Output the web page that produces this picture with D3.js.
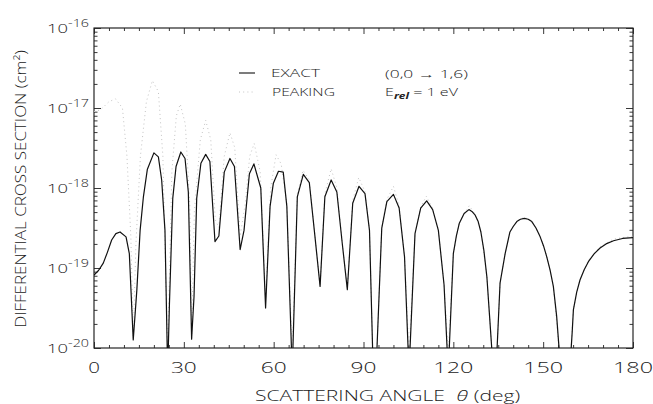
<!DOCTYPE html>
<html><head><meta charset="utf-8">
<script src="https://cdn.jsdelivr.net/npm/d3@7"></script>
<style>
html,body{margin:0;padding:0;background:#fff;}
text{font-family:"Open Sans","Liberation Sans",Arial,sans-serif;font-weight:300;fill:#222;}
</style></head>
<body><svg id="c" width="653" height="404"></svg>
<script>
// ---- data ----
const thetaExact = [0,1.5,3.1,4.5,5.9,7.3,8.7,10.7,11.8,13.1,14.3,15.4,16.5,17.8,20.0,21.5,22.6,23.7,24.6,25.2,26.3,27.4,29.0,30.4,31.5,32.6,33.4,34.3,35.7,37.3,38.7,40.4,41.7,43.5,45.4,46.9,48.8,50.1,51.9,53.4,55.7,57.3,58.8,59.9,61.6,63.2,64.4,66.2,67.9,69.9,71.9,73.8,75.5,77.1,79.2,81.1,82.9,84.6,86.4,88.5,90.5,92.0,93.1,94.4,96.1,97.8,100.0,101.9,103.7,105.2,107.2,109.1,111.1,113.1,115.0,116.9,118.3,120.0,121.0,122.0,123.6,125.2,126.2,127.3,128.3,129.2,130.2,131.2,132.1,133.0,134.5,135.6,137.3,138.9,140.0,141.2,142.4,143.7,145.0,146.2,147.6,149.0,150.1,151.2,152.3,153.4,154.5,155.5,159.2,159.7,160.1,161.2,162.3,163.7,165.1,167.0,169.0,171.0,173.5,176.5,180.0];
const exactCS = [8.13e-20,9.3e-20,1.15e-19,1.58e-19,2.24e-19,2.69e-19,2.82e-19,2.45e-19,1.51e-19,1.26e-20,5.25e-20,2.95e-19,7.76e-19,1.70e-18,2.75e-18,2.45e-18,1.26e-18,2.95e-19,5e-21,3.63e-20,7.41e-19,1.86e-18,2.82e-18,2.34e-18,8.91e-19,1.29e-20,4.37e-20,7.41e-19,2.04e-18,2.63e-18,2.14e-18,2.14e-19,2.51e-19,1.58e-18,2.34e-18,1.86e-18,1.70e-19,2.95e-19,1.51e-18,2.0e-18,1.0e-18,3.16e-20,5.89e-19,1.15e-18,1.62e-18,1.58e-18,5.89e-19,5e-21,7.76e-19,1.48e-18,1.17e-18,2.45e-19,5.89e-20,7.76e-19,1.26e-18,8.91e-19,2.04e-19,5.37e-20,6.46e-19,1.05e-18,8.51e-19,2.95e-19,8e-21,8e-21,3.16e-19,6.76e-19,8.32e-19,5.62e-19,1.38e-19,5e-21,2.69e-19,5.62e-19,6.92e-19,5.37e-19,2.95e-19,6.17e-20,5e-21,1.51e-19,2.5e-19,3.63e-19,4.8e-19,5.37e-19,5.1e-19,4.57e-19,3.8e-19,2.82e-19,1.66e-19,7.76e-20,2.5e-20,8e-21,8e-21,6.46e-20,1.51e-19,2.82e-19,3.3e-19,3.80e-19,4.07e-19,4.17e-19,4.07e-19,3.80e-19,3.16e-19,2.45e-19,1.9e-19,1.38e-19,9.5e-20,5.89e-20,2.5e-20,8e-21,8e-21,1.6e-20,3.02e-20,5e-20,7.08e-20,9.5e-20,1.20e-19,1.5e-19,1.78e-19,2.0e-19,2.19e-19,2.34e-19,2.40e-19];

const thetaPeak = [0,2.2,5.0,7.2,9.5,11.0,12.3,13.1,14.0,15.5,17.5,19.5,21.5,23.0,24.6,26.0,27.5,28.8,30.5,32.0,32.6,33.5,35.5,37.3,39.0,40.5,41.7,43.5,45.4,47.0,48.8,50.5,52.0,53.5,55.5,57.3,59.0,60.8,62.5,64.4,66.2,67.9,69.8,71.9,73.8,75.5,77.1,79.2,81.1,82.9,84.6,86.4,88.4,90.5,92.0,93.1,94.4,96.1,97.8,100.0,101.9,103.7,105.2,107.2,109.1,111.0,113.1,115.0,116.9,118.3,120.0,122.0,125.3,127.3,129.2,131.2,133.0,134.5,135.6,137.3,138.9,141.2,143.7,146.2,149.0,151.2,153.4,155.5,159.2,160.1,162.3,165.1,169.0,173.5,180.0];
const peakCS = [9e-18,9.5e-18,1.2e-17,1.3e-17,1.0e-17,2.5e-18,2.5e-19,1.3e-20,2.0e-19,2.5e-18,1.2e-17,2.2e-17,1.6e-17,2.5e-18,8e-21,1.6e-18,8e-18,1.12e-17,6.3e-18,6e-19,1.3e-20,5e-19,4e-18,7e-18,4e-18,4e-19,3.2e-19,2.5e-18,4.9e-18,3.2e-18,2.5e-19,6.3e-19,2.5e-18,3.6e-18,1.6e-18,4e-20,1.0e-18,2.6e-18,2.0e-18,6.3e-19,8e-21,8.5e-19,1.66e-18,1.26e-18,2.5e-19,6e-20,8.5e-19,1.74e-18,1.0e-18,2.1e-19,5.5e-20,7e-19,1.35e-18,9e-19,3e-19,8e-21,8e-21,3.2e-19,7.2e-19,1.05e-18,6e-19,1.4e-19,8e-21,2.7e-19,5.8e-19,7.9e-19,5.5e-19,3e-19,6.2e-20,8e-21,1.5e-19,3.7e-19,6.0e-19,4.7e-19,2.85e-19,7.8e-20,8e-21,8e-21,6.5e-20,1.52e-19,2.85e-19,3.85e-19,4.3e-19,3.9e-19,2.5e-19,1.4e-19,6e-20,8e-21,8e-21,3.1e-20,7.2e-20,1.25e-19,1.85e-19,2.3e-19,2.5e-19];

const xTicks = [0,30,60,90,120,150,180];
const yTickExps = ["-20","-19","-18","-17","-16"];
const seriesNames = ["EXACT","PEAKING"];
const transitionLabel = "(0,0 \u2192 1,6)";
const xTitle = "SCATTERING ANGLE";
const yTitle = "DIFFERENTIAL CROSS SECTION (cm\u00B2)";

// ---- layout ----
const L=94, R=633, T=28, B=348;
const svg = d3.select("#c");
const x = d3.scaleLinear().domain([0,180]).range([L,R]);
const y = d3.scaleLog().domain([1e-20,1e-16]).range([B,T]);

svg.append("defs").append("clipPath").attr("id","pc")
  .append("rect").attr("x",L).attr("y",T).attr("width",R-L).attr("height",B-T);

svg.append("rect").attr("x",L).attr("y",T).attr("width",R-L).attr("height",B-T)
  .attr("fill","none").attr("stroke","#111").attr("stroke-width",1.1);

const minorX = d3.range(0,181,5).filter(v=>v%30!==0);
svg.append("g").attr("transform",`translate(0,${B})`)
  .call(d3.axisTop(x).tickValues(xTicks).tickSize(6).tickFormat(""));
svg.append("g").attr("transform",`translate(0,${B})`)
  .call(d3.axisTop(x).tickValues(minorX).tickSize(3).tickFormat(""));
svg.append("g").attr("transform",`translate(0,${T})`)
  .call(d3.axisBottom(x).tickValues(xTicks).tickSize(6).tickFormat(""));
svg.append("g").attr("transform",`translate(0,${T})`)
  .call(d3.axisBottom(x).tickValues(minorX).tickSize(3).tickFormat(""));
const majY = yTickExps.map(e=>Math.pow(10,+e));
const minY = [];
[-20,-19,-18,-17].forEach(e=>{for(let m=2;m<=9;m++) minY.push(m*Math.pow(10,e));});
svg.append("g").attr("transform",`translate(${L},0)`)
  .call(d3.axisRight(y).tickValues(majY).tickSize(7).tickFormat(""));
svg.append("g").attr("transform",`translate(${L},0)`)
  .call(d3.axisRight(y).tickValues(minY).tickSize(3.5).tickFormat(""));
svg.append("g").attr("transform",`translate(${R},0)`)
  .call(d3.axisLeft(y).tickValues(majY).tickSize(7).tickFormat(""));
svg.append("g").attr("transform",`translate(${R},0)`)
  .call(d3.axisLeft(y).tickValues(minY).tickSize(3.5).tickFormat(""));
svg.selectAll(".domain").remove();
svg.selectAll(".tick line").attr("stroke","#222").attr("stroke-width",0.9);

// ---- curves ----
const lineGen = d3.line().x(d=>x(d[0])).y(d=>y(d[1]));
const plot = svg.append("g").attr("clip-path","url(#pc)");
plot.append("path").datum(thetaPeak.map((t,i)=>[t,peakCS[i]]))
  .attr("d",lineGen).attr("fill","none").attr("stroke","#c4c4c4")
  .attr("stroke-width",1).attr("stroke-dasharray","1,3.2");
plot.append("path").datum(thetaExact.map((t,i)=>[t,exactCS[i]]))
  .attr("d",lineGen).attr("fill","none").attr("stroke","#111")
  .attr("stroke-width",1.2).attr("stroke-linejoin","round");

// ---- text helper (wide plotter-style text via horizontal stretch) ----
function wt(px,py,anchor,size,target){
  const t = svg.append("text").attr("font-size",size).attr("text-anchor",anchor)
    .attr("transform",`translate(${px},${py})`);
  t.fit = function(){ const w=this.node().getComputedTextLength();
    const s = target? target/w : 1;
    this.attr("transform",`translate(${px},${py}) scale(${s},1)`); return this; };
  return t;
}

xTicks.forEach(v=>{
  const s=String(v);
  const t=wt(x(v),373,"middle",15, s.length*14.2-2.5); t.text(s); t.fit();
});
yTickExps.forEach(e=>{
  const yy=y(Math.pow(10,+e));
  const t=wt(89,yy+5.3,"end",13.5,42);
  t.append("tspan").text("10");
  t.append("tspan").attr("font-size",10.5).attr("dy",-6.8).text(e);
  t.fit();
});

const xt = wt(255,401,"start",14.5,248);
xt.append("tspan").text(xTitle);
xt.append("tspan").attr("dx",8).attr("font-style","italic").text("\u03B8");
xt.append("tspan").attr("dx",4).text("(deg)");
xt.fit();

const ytT = svg.append("text").attr("font-size",15).attr("text-anchor","middle")
  .attr("transform","translate(25.5,189) rotate(-90)").text(yTitle);
const yw = ytT.node().getComputedTextLength();
ytT.attr("transform",`translate(25.5,189) rotate(-90) scale(${278/yw},1)`);

// legend
svg.append("line").attr("x1",239).attr("x2",255).attr("y1",73).attr("y2",73)
  .attr("stroke","#111").attr("stroke-width",1.1);
svg.append("line").attr("x1",239).attr("x2",255).attr("y1",92).attr("y2",92)
  .attr("stroke","#c4c4c4").attr("stroke-width",1).attr("stroke-dasharray","1,3.2");
wt(271,77,"start",11.5,49).text(seriesNames[0]).fit();
wt(272,96,"start",11.5,63).text(seriesNames[1]).fit();

wt(385,77.5,"start",11.5,83).text(transitionLabel).fit();
const et = wt(385,96,"start",11.5,73);
et.append("tspan").text("E");
et.append("tspan").attr("font-size",8.5).attr("dy",3).attr("font-style","italic").attr("font-weight","bold").text("rel");
et.append("tspan").attr("dy",-3).text(" = 1 eV");
et.fit();
</script></body></html>
